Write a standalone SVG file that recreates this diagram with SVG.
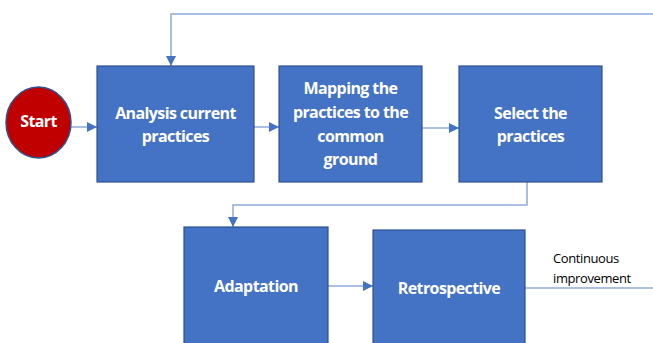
<svg xmlns="http://www.w3.org/2000/svg" width="653" height="343" viewBox="0 0 653 343">
  <style>
    .box { fill: #4472C4; stroke: #2F528F; stroke-width: 1.2; }
    .lbl { fill: #FFFFFF; font-family: "Open Sans", "Liberation Sans", sans-serif; font-weight: bold; font-size: 16px; text-anchor: middle; dominant-baseline: central; letter-spacing: -0.6px; }
    .note { fill: #000000; font-family: "Open Sans", "Liberation Sans", sans-serif; font-size: 13px; letter-spacing: -0.4px; }
    .wire { fill: none; stroke: #8FAADC; stroke-width: 1.5; }
  </style>
  <defs>
    <marker id="arrow" viewBox="0 0 10 10" refX="10" refY="5" markerWidth="10" markerHeight="10" markerUnits="userSpaceOnUse" orient="auto">
      <path d="M0,0 L10,5 L0,10 Z" fill="#4472C4"/>
    </marker>
  </defs>

  <g id="connectors">
    <path class="wire" d="M71,127 H97" marker-end="url(#arrow)"/>
    <path class="wire" d="M254,127 H279" marker-end="url(#arrow)"/>
    <path class="wire" d="M422,128 H459" marker-end="url(#arrow)"/>
    <path class="wire" d="M527,182 V205 H233 V227" marker-end="url(#arrow)"/>
    <path class="wire" d="M328,286 H373" marker-end="url(#arrow)"/>
    <path class="wire" d="M525,288 H653"/>
    <path class="wire" d="M653,14 H171 V66" marker-end="url(#arrow)"/>
  </g>

  <g id="start">
    <ellipse cx="38.5" cy="122.5" rx="32.5" ry="35.5" fill="#C00000" stroke="#2F528F" stroke-width="1.5"/>
    <text class="lbl" x="38.5" y="121">Start</text>
  </g>

  <g id="analysis">
    <rect class="box" x="97" y="66" width="157" height="116"/>
    <text class="lbl" x="175.5" y="113">Analysis current</text>
    <text class="lbl" x="175.5" y="136">practices</text>
  </g>

  <g id="mapping">
    <rect class="box" x="279" y="66" width="143" height="116"/>
    <text class="lbl" x="350.5" y="88">Mapping the</text>
    <text class="lbl" x="350.5" y="112">practices to the</text>
    <text class="lbl" x="350.5" y="136">common</text>
    <text class="lbl" x="350.5" y="159">ground</text>
  </g>

  <g id="select">
    <rect class="box" x="459" y="66" width="143" height="116"/>
    <text class="lbl" x="530.5" y="113">Select the</text>
    <text class="lbl" x="530.5" y="136">practices</text>
  </g>

  <g id="adaptation">
    <rect class="box" x="184" y="227" width="144" height="130"/>
    <text class="lbl" x="256" y="286">Adaptation</text>
  </g>

  <g id="retrospective">
    <rect class="box" x="373" y="230" width="152" height="127"/>
    <text class="lbl" x="449" y="288">Retrospective</text>
  </g>

  <g id="continuous-label">
    <text class="note" x="553" y="263">Continuous</text>
    <text class="note" x="553" y="283">improvement</text>
  </g>
</svg>
